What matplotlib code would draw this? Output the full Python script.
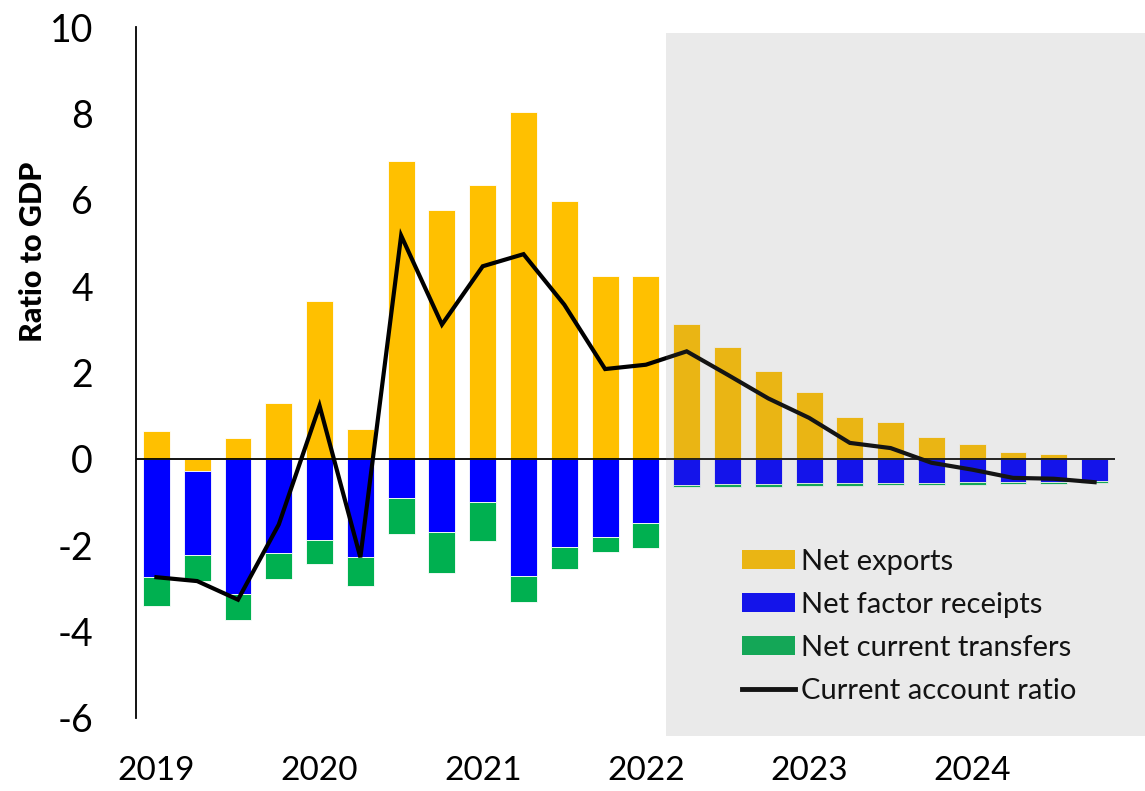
import matplotlib
matplotlib.use("Agg")
import matplotlib.pyplot as plt
from matplotlib.patches import Rectangle, Patch
from matplotlib.lines import Line2D
import numpy as np

plt.rcParams['font.family'] = ['Lato', 'DejaVu Sans']

# Quarterly data, 2019Q1 - 2024Q4 (ratio to GDP, %)
quarters = [f"{y}Q{q}" for y in range(2019, 2025) for q in range(1, 5)]
year_labels = ["2019", "2020", "2021", "2022", "2023", "2024"]

net_exports = [0.64, -0.29, 0.48, 1.30, 3.65, 0.69, 6.90, 5.77, 6.34, 8.03, 5.98, 4.23,
               4.23, 3.13, 2.60, 2.04, 1.56, 0.98, 0.85, 0.51, 0.35, 0.15, 0.11, 0.02]
net_factor_receipts = [-2.74, -1.93, -3.12, -2.19, -1.87, -2.28, -0.91, -1.70, -1.00, -2.72, -2.05, -1.82,
                       -1.49, -0.60, -0.58, -0.58, -0.57, -0.57, -0.55, -0.55, -0.54, -0.54, -0.53, -0.52]
net_current_transfers = [-0.66, -0.61, -0.61, -0.60, -0.56, -0.67, -0.83, -0.94, -0.91, -0.59, -0.49, -0.33,
                         -0.58, -0.05, -0.06, -0.06, -0.06, -0.05, -0.06, -0.06, -0.06, -0.05, -0.05, -0.05]
current_account = [-2.74, -2.83, -3.26, -1.52, 1.23, -2.28, 5.17, 3.11, 4.46, 4.74, 3.57, 2.08,
                   2.18, 2.49, 1.95, 1.40, 0.95, 0.37, 0.25, -0.09, -0.25, -0.44, -0.46, -0.54]
forecast_start = "2022Q2"

series = [
    ("Net exports", net_exports, "#FFC000"),
    ("Net factor receipts", net_factor_receipts, "#0000FF"),
    ("Net current transfers", net_current_transfers, "#00B050"),
]

W, H = 1145, 791
fig = plt.figure(figsize=(W / 100, H / 100), dpi=100)
ax = fig.add_axes([136 / W, 1 - 718 / H, (1115 - 136) / W, (718 - 27) / H])

x = np.arange(len(quarters))
pos_base = np.zeros(len(quarters))
neg_base = np.zeros(len(quarters))
for name, vals, color in series:
    v = np.array(vals)
    base = np.where(v >= 0, pos_base, neg_base)
    ax.bar(x, v, bottom=base, width=0.66, color=color, edgecolor="#FFFFFF",
           linewidth=0.6, zorder=2)
    pos_base = pos_base + np.where(v >= 0, v, 0)
    neg_base = neg_base + np.where(v < 0, v, 0)

ax.plot(x, current_account, color="black", lw=3.0, zorder=4, solid_joinstyle="miter")
ax.axhline(0, color="black", lw=1.3, zorder=3)

ax.set_xlim(-0.5, len(quarters) - 0.5)
ax.set_ylim(-6, 10)
ax.set_yticks(np.arange(-6, 11, 2))
ax.set_yticklabels([str(t) for t in range(-6, 11, 2)])
year_pos = [quarters.index(f"{y}Q1") for y in year_labels]
ax.set_xticks(year_pos)
ax.set_xticklabels(year_labels)

for s in ["top", "right", "bottom"]:
    ax.spines[s].set_visible(False)
ax.spines["left"].set_linewidth(1.3)
ax.tick_params(axis="y", length=0, pad=31, labelsize=27)
ax.tick_params(axis="x", length=0, pad=27, labelsize=24)

fig.text(33 / W, 1 - 252 / H, "Ratio to GDP", rotation=90, ha="center", va="center",
         fontsize=22, fontweight="black")

handles = [Patch(facecolor=c, edgecolor="none") for _, _, c in series]
handles.append(Line2D([0], [0], color="black", lw=3.5))
labels = [n for n, _, _ in series] + ["Current account ratio"]
ax.legend(handles, labels, loc="upper left", bbox_to_anchor=(742 / W, 1 - 549 / H),
          bbox_transform=fig.transFigure, frameon=False, fontsize=21,
          handlelength=1.8, handleheight=0.62, handletextpad=0.22,
          labelspacing=0.58, borderpad=0, borderaxespad=0)

# Shaded forecast period
fx0 = ax.transData.transform((quarters.index(forecast_start) - 0.5, 0))[0] / W
fig.patches.append(Rectangle((fx0, 1 - 736 / H), 1 - fx0, (736 - 33) / H,
                             transform=fig.transFigure, facecolor=(0.49, 0.49, 0.49),
                             alpha=0.16, edgecolor="none", zorder=10))

fig.savefig("out.png", dpi=100)
